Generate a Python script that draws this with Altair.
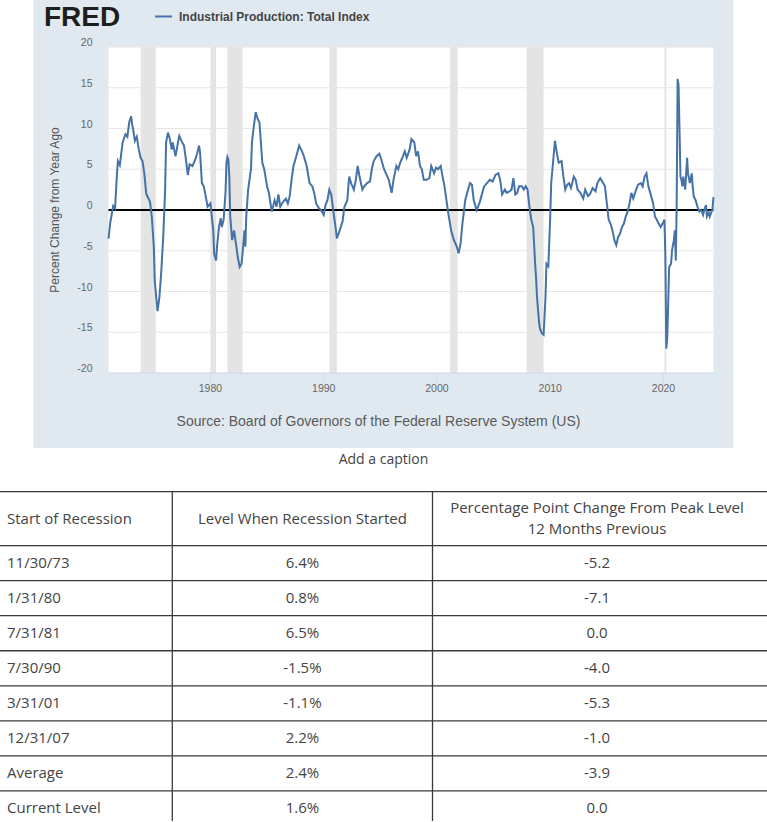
import altair as alt
import pandas as pd

# ---------------- data ----------------
dates = [
    "1971-01", "1971-03", "1971-06", "1971-08", "1971-10", "1971-11", "1972-01", "1972-04", "1972-07", "1972-09",
    "1972-11", "1973-01", "1973-02", "1973-03", "1973-05", "1973-07", "1973-09", "1973-11", "1974-01", "1974-03",
    "1974-05", "1974-07", "1974-09", "1974-11", "1975-01", "1975-02", "1975-04", "1975-05", "1975-07", "1975-09",
    "1975-11", "1976-01", "1976-02", "1976-04", "1976-06", "1976-08", "1976-09", "1976-12", "1977-02", "1977-04",
    "1977-07", "1977-09", "1977-11", "1978-01", "1978-03", "1978-06", "1978-09", "1978-11", "1979-01", "1979-02",
    "1979-04", "1979-06", "1979-08", "1979-10", "1980-01", "1980-02", "1980-04", "1980-05", "1980-07", "1980-08",
    "1980-10", "1980-12", "1981-01", "1981-03", "1981-05", "1981-06", "1981-07", "1981-08", "1981-09", "1981-10",
    "1981-12", "1982-02", "1982-04", "1982-06", "1982-08", "1982-10", "1982-11", "1983-01", "1983-02", "1983-03",
    "1983-05", "1983-08", "1983-09", "1983-11", "1984-01", "1984-03", "1984-05", "1984-08", "1984-10", "1985-01",
    "1985-03", "1985-06", "1985-09", "1985-11", "1986-01", "1986-03", "1986-06", "1986-09", "1986-11", "1987-01",
    "1987-03", "1987-05", "1987-08", "1987-11", "1988-02", "1988-04", "1988-07", "1988-10", "1989-01", "1989-03",
    "1989-05", "1989-08", "1989-10", "1990-01", "1990-03", "1990-05", "1990-07", "1990-09", "1990-12", "1991-02",
    "1991-03", "1991-06", "1991-09", "1991-11", "1992-02", "1992-04", "1992-06", "1992-09", "1992-11", "1993-01",
    "1993-03", "1993-06", "1993-08", "1993-11", "1994-02", "1994-04", "1994-06", "1994-09", "1994-12", "1995-02",
    "1995-05", "1995-07", "1995-10", "1996-01", "1996-03", "1996-06", "1996-08", "1996-10", "1997-01", "1997-03",
    "1997-05", "1997-08", "1997-10", "1998-01", "1998-03", "1998-05", "1998-07", "1998-09", "1998-11", "1999-02",
    "1999-05", "1999-07", "1999-10", "1999-12", "2000-02", "2000-05", "2000-07", "2000-09", "2000-11", "2001-01",
    "2001-04", "2001-07", "2001-10", "2001-12", "2002-02", "2002-04", "2002-07", "2002-09", "2002-12", "2003-02",
    "2003-04", "2003-07", "2003-10", "2004-01", "2004-03", "2004-06", "2004-09", "2004-12", "2005-03", "2005-06",
    "2005-08", "2005-10", "2006-01", "2006-03", "2006-06", "2006-08", "2006-10", "2006-12", "2007-02", "2007-04",
    "2007-07", "2007-09", "2007-11", "2008-01", "2008-03", "2008-05", "2008-07", "2008-09", "2008-10", "2008-11",
    "2009-01", "2009-02", "2009-04", "2009-06", "2009-08", "2009-09", "2009-11", "2010-01", "2010-02", "2010-04",
    "2010-06", "2010-08", "2010-10", "2011-01", "2011-03", "2011-05", "2011-07", "2011-09", "2011-11", "2012-02",
    "2012-04", "2012-06", "2012-09", "2012-12", "2013-02", "2013-05", "2013-07", "2013-10", "2014-01", "2014-03",
    "2014-06", "2014-09", "2014-11", "2015-01", "2015-03", "2015-05", "2015-07", "2015-09", "2015-11", "2016-01",
    "2016-03", "2016-05", "2016-07", "2016-09", "2016-11", "2017-01", "2017-03", "2017-05", "2017-08", "2017-10",
    "2018-01", "2018-03", "2018-05", "2018-07", "2018-09", "2018-11", "2019-02", "2019-04", "2019-06", "2019-08",
    "2019-10", "2019-12", "2020-02", "2020-03", "2020-04", "2020-05", "2020-06", "2020-07", "2020-09", "2020-10",
    "2020-11", "2020-12", "2021-01", "2021-02", "2021-03", "2021-04", "2021-05", "2021-06", "2021-07", "2021-08",
    "2021-09", "2021-10", "2021-12", "2022-02", "2022-03", "2022-05", "2022-07", "2022-08", "2022-09", "2022-11",
    "2023-01", "2023-03", "2023-05", "2023-07", "2023-08", "2023-10", "2023-11", "2024-01", "2024-02", "2024-04",
    "2024-05", "2024-06",
]
values = [
    -3.5, -1.5, 0.5, 0.2, 4.5, 6.0, 5.5, 8.3, 9.3, 9.0,
    10.8, 11.5, 10.5, 10.0, 8.5, 9.0, 7.5, 6.4, 6.0, 4.5,
    2.0, 1.5, 1.0, -1.0, -4.5, -8.7, -11.2, -12.4, -10.7, -7.4,
    -3.3, 2.5, 8.3, 9.5, 8.7, 7.4, 8.3, 6.6, 7.9, 9.1,
    8.3, 7.9, 6.2, 4.3, 5.6, 5.4, 6.2, 7.0, 7.9, 7.0,
    3.3, 2.9, 1.7, 0.4, 0.8, -0.3, -2.5, -5.4, -6.2, -4.5,
    -2.1, -1.0, -2.1, -1.2, 2.1, 5.8, 6.5, 6.2, 4.1, -0.8,
    -3.7, -2.5, -4.1, -5.8, -7.0, -6.6, -5.4, -2.5, -4.5, -0.8,
    2.5, 5.0, 8.3, 10.3, 12.0, 11.2, 10.7, 5.8, 5.0, 2.9,
    2.1, -0.2, 1.2, 0.4, 1.9, 0.4, 1.0, 1.4, 0.8, 1.7,
    3.7, 5.4, 6.6, 7.9, 7.2, 6.6, 5.4, 3.3, 2.9, 2.1,
    0.8, 0.2, 0.0, -0.6, 0.6, 1.2, 2.5, 1.9, -0.8, -2.5,
    -3.5, -2.5, -1.4, 0.4, 1.2, 4.1, 3.3, 2.5, 3.7, 5.4,
    4.1, 2.5, 2.9, 3.3, 3.5, 5.0, 6.0, 6.6, 6.9, 6.2,
    5.0, 4.5, 3.7, 2.1, 3.7, 5.4, 5.0, 5.8, 6.6, 7.2,
    6.4, 7.4, 8.7, 8.3, 6.6, 7.2, 5.4, 5.0, 3.7, 3.7,
    3.9, 5.4, 4.5, 5.2, 5.0, 5.4, 4.1, 2.9, 1.2, -0.4,
    -2.5, -3.7, -4.5, -5.3, -4.1, -1.7, 1.2, 2.1, 3.3, 3.1,
    1.2, 0.0, 0.8, 2.1, 2.9, 3.3, 3.7, 3.5, 4.3, 4.5,
    3.7, 1.9, 2.5, 2.1, 2.3, 2.5, 3.9, 1.9, 2.1, 2.9,
    2.9, 2.5, 2.9, 2.5, 0.4, -1.2, -2.1, -6.6, -8.3, -10.7,
    -13.6, -14.5, -15.1, -15.3, -10.7, -6.6, -6.9, -0.8, 3.3, 5.8,
    8.5, 7.0, 5.8, 6.0, 4.1, 2.5, 3.1, 3.3, 2.7, 4.1,
    3.7, 2.5, 2.1, 1.4, 2.5, 1.7, 1.9, 2.7, 2.3, 3.3,
    3.9, 3.3, 2.9, 0.8, -1.2, -1.7, -2.5, -3.7, -4.3, -3.3,
    -2.9, -2.1, -1.7, -0.8, -0.2, 0.8, 2.1, 1.4, 2.5, 3.1,
    3.3, 2.9, 4.1, 4.5, 2.9, 2.1, 0.8, -0.8, -1.2, -1.7,
    -2.1, -1.7, -1.2, -5.5, -17.0, -15.7, -11.5, -7.0, -6.6, -5.0,
    -4.3, -3.7, -2.5, -6.2, 0.5, 16.1, 15.3, 9.9, 4.1, 3.7,
    2.9, 4.1, 2.5, 6.4, 4.5, 3.3, 4.5, 2.9, 1.7, 1.2,
    0.4, -0.2, 0.0, -0.6, -0.1, 0.6, -0.8, -0.3, -0.8, -0.2,
    0.2, 1.6,
]

recession_starts = ["1973-11", "1980-01", "1981-07", "1990-07", "2001-03", "2007-12", "2020-02"]
recession_ends = ["1975-03", "1980-07", "1982-11", "1991-03", "2001-11", "2009-06", "2020-04"]

y_tick_values = [-20, -15, -10, -5, 0, 5, 10, 15, 20]
grid_values = [-15, -10, -5, 5, 10, 15, 20]
x_tick_years = [1980, 1990, 2000, 2010, 2020]
x_first, x_last = "1971-01", "2024-06"

series_name = "Industrial Production: Total Index"
source_text = "Source: Board of Governors of the Federal Reserve System (US)"
y_title = "Percent Change from Year Ago"
brand = "FRED"

table_headers = ["Start of Recession", "Level When Recession Started",
                 ["Percentage Point Change From Peak Level", "12 Months Previous"]]
table_starts = ["11/30/73", "1/31/80", "7/31/81", "7/30/90", "3/31/01", "12/31/07", "Average", "Current Level"]
table_levels = [6.4, 0.8, 6.5, -1.5, -1.1, 2.2, 2.4, 1.6]
table_changes = [-5.2, -7.1, 0.0, -4.0, -5.3, -1.0, -3.9, 0.0]
caption = "Add a caption"

# ---------------- layout / style ----------------
PANEL_W, PANEL_H = 700, 448
PLOT_X = [75, 680]          # plot area inside the panel (x range)
PLOT_Y = [373, 47]          # plot area inside the panel (y range, bottom->top)
PANEL_BG = "#e1e9f0"
LINE_COLOR = "#4572a7"
AXIS_LINE = "#ccd6eb"
AX_FONT = "Liberation Sans"
TBL_FONT = "Open Sans"
TBL_W, TBL_H = 767, 330
COL_EDGES = [172.3, 432.5]
COL_TEXT_X = [7, 302.4, 597]
HEADER_UNITS = 1.54
VISIBLE_UNITS = 9.42
Y0 = -0.02


def day(s):
    return s + "-01"


def dt(s):
    y, m = s.split("-")
    return alt.DateTime(year=int(y), month=int(m), date=1)


# ---------------- FRED panel ----------------
line_df = pd.DataFrame({"date": [day(d) for d in dates], "value": values, "series": series_name})
rec_df = pd.DataFrame({"start": [day(d) for d in recession_starts], "end": [day(d) for d in recession_ends]})
grid_df = pd.DataFrame({"y": grid_values, "x0": day(x_first), "x1": day(x_last)})
plot_df = pd.DataFrame({"x0": [day(x_first)], "x1": [day(x_last)],
                        "y0": [y_tick_values[0]], "y1": [y_tick_values[-1]]})
zero_df = pd.DataFrame({"y": [0], "x0": [day(x_first)], "x1": [day(x_last)]})
ylab_df = pd.DataFrame({"v": y_tick_values, "x": day(x_first), "label": [str(v) for v in y_tick_values]})
xlab_df = pd.DataFrame({"d": [f"{y}-01-01" for y in x_tick_years], "y": y_tick_values[0],
                        "label": [str(y) for y in x_tick_years]})
ytitle_df = pd.DataFrame({"x": [day(x_first)], "y": [(y_tick_values[0] + y_tick_values[-1]) / 2],
                          "t": [y_title]})

xscale = alt.Scale(domain=[dt(x_first), dt(x_last)], range=PLOT_X)
yscale = alt.Scale(domain=[y_tick_values[0], y_tick_values[-1]], range=PLOT_Y, nice=False, zero=False)


def X(f):
    return alt.X(f, scale=xscale, axis=None)


def Y(f):
    return alt.Y(f, scale=yscale, axis=None)


plot_bg = alt.Chart(plot_df).mark_rect(fill="white").encode(x=X("x0:T"), x2="x1:T", y=Y("y0:Q"), y2="y1:Q")
grid = alt.Chart(grid_df).mark_rule(color="#e6e6e6", strokeWidth=1).encode(x=X("x0:T"), x2="x1:T", y=Y("y:Q"))
bands = alt.Chart(rec_df).mark_rect(fill="#e4e4e4").encode(
    x=X("start:T"), x2="end:T", y=alt.value(PLOT_Y[1]), y2=alt.value(PLOT_Y[0]))
x_domain = alt.Chart(plot_df).mark_rule(color=AXIS_LINE, strokeWidth=1).encode(
    x=X("x0:T"), x2="x1:T", y=Y("y0:Q"))
x_ticks = alt.Chart(xlab_df).mark_tick(orient="vertical", size=10, thickness=1, yOffset=5, color=AXIS_LINE).encode(
    x=X("d:T"), y=Y("y:Q"))
x_labels = alt.Chart(xlab_df).mark_text(
    align="center", baseline="middle", dy=16, font=AX_FONT, fontSize=10.5, color="#666666"
).encode(x=X("d:T"), y=Y("y:Q"), text="label:N")
y_labels = alt.Chart(ylab_df).mark_text(
    align="right", baseline="alphabetic", dx=-16, dy=-1, font=AX_FONT, fontSize=10.5, color="#666666"
).encode(x=X("x:T"), y=Y("v:Q"), text="label:N")
# angle 270: the text's own y offset points to the left of the screen when negative
y_title_mark = alt.Chart(ytitle_df).mark_text(
    align="center", baseline="middle", angle=270, dy=-54, font=AX_FONT, fontSize=12, color="#555555"
).encode(x=X("x:T"), y=Y("y:Q"), text="t:N")
zero = alt.Chart(zero_df).mark_rule(color="black", strokeWidth=2).encode(x=X("x0:T"), x2="x1:T", y=Y("y:Q"))
line = alt.Chart(line_df).mark_line(strokeWidth=2).encode(
    x=X("date:T"),
    y=Y("value:Q"),
    color=alt.Color(
        "series:N", scale=alt.Scale(domain=[series_name], range=[LINE_COLOR]),
        legend=alt.Legend(
            orient="none", legendX=44, legendY=7, title=brand, titleOrient="left", titleFont=AX_FONT,
            titleFontSize=28, titleFontWeight=900, titleColor="#1e1e1e", titlePadding=33,
            titleBaseline="line-top", titleLineHeight=22, titleAnchor="start",
            symbolType="stroke", symbolStrokeWidth=2, symbolSize=289, labelOffset=6, labelLimit=400,
            labelFont=AX_FONT, labelFontSize=12, labelFontWeight="bold", labelColor="#444444",
            padding=0,
        ),
    ),
)

fred = alt.layer(plot_bg, bands, grid, x_domain, x_ticks, x_labels, y_labels, y_title_mark, zero, line).properties(
    width=PANEL_W, height=PANEL_H,
    view=alt.ViewBackground(fill=PANEL_BG, stroke=None),
    title=alt.TitleParams(source_text, orient="bottom", anchor="middle", offset=-33, dx=-5,
                          font=AX_FONT, fontSize=14, fontWeight="normal", color="#595959"),
)

# ---------------- table ----------------
rows = []
for i, h in enumerate(table_headers):
    if isinstance(h, list):
        n = len(h)
        for k, part in enumerate(h):
            rows.append({"x": COL_TEXT_X[i], "y": HEADER_UNITS / 2 + (k - (n - 1) / 2) * 0.6, "text": part, "col": i})
    else:
        rows.append({"x": COL_TEXT_X[i], "y": HEADER_UNITS / 2, "text": h, "col": i})
for r, (s, lv, ch) in enumerate(zip(table_starts, table_levels, table_changes)):
    yc = HEADER_UNITS + r + 0.5
    rows.append({"x": COL_TEXT_X[0], "y": yc, "text": s, "col": 0})
    rows.append({"x": COL_TEXT_X[1], "y": yc, "text": f"{lv:.1f}%", "col": 1})
    rows.append({"x": COL_TEXT_X[2], "y": yc, "text": f"{ch:.1f}", "col": 2})
text_df = pd.DataFrame(rows)

hlines = [0.0] + [HEADER_UNITS + k for k in range(len(table_starts))]
h_df = pd.DataFrame({"y": hlines, "x0": 0, "x1": TBL_W})
v_df = pd.DataFrame({"x": COL_EDGES, "y0": 0.0, "y1": VISIBLE_UNITS})

tx = alt.Scale(domain=[0, TBL_W], nice=False, zero=False)
ty = alt.Scale(domain=[Y0, VISIBLE_UNITS + Y0], reverse=True, nice=False, zero=False)

t_h = alt.Chart(h_df).mark_rule(color="#3a3a3a", strokeWidth=1.3, clip=True).encode(
    x=alt.X("x0:Q", scale=tx, axis=None), x2="x1:Q", y=alt.Y("y:Q", scale=ty, axis=None))
t_v = alt.Chart(v_df).mark_rule(color="#3a3a3a", strokeWidth=1.3, clip=True).encode(
    x=alt.X("x:Q", scale=tx, axis=None), y=alt.Y("y0:Q", scale=ty, axis=None), y2="y1:Q")
t_left = alt.Chart(text_df).transform_filter("datum.col == 0").mark_text(
    align="left", baseline="middle", font=TBL_FONT, fontSize=15, fontWeight=400, color="#444444", clip=True
).encode(x=alt.X("x:Q", scale=tx, axis=None), y=alt.Y("y:Q", scale=ty, axis=None), text="text:N")
t_mid = alt.Chart(text_df).transform_filter("datum.col > 0").mark_text(
    align="center", baseline="middle", font=TBL_FONT, fontSize=15, fontWeight=400, color="#444444", clip=True
).encode(x=alt.X("x:Q", scale=tx, axis=None), y=alt.Y("y:Q", scale=ty, axis=None), text="text:N")

table = alt.layer(t_h, t_v, t_left, t_mid).properties(
    width=TBL_W, height=TBL_H,
    title=alt.TitleParams(caption, anchor="middle", offset=24, font=TBL_FONT, fontSize=14,
                          fontWeight="normal", color="#444444"),
)

chart = alt.vconcat(fred, table, spacing=5, center=True).properties(
    padding=0, background="white"
).configure_view(stroke=None)

chart.save("out.html", embed_options={"renderer": "svg", "actions": False})
